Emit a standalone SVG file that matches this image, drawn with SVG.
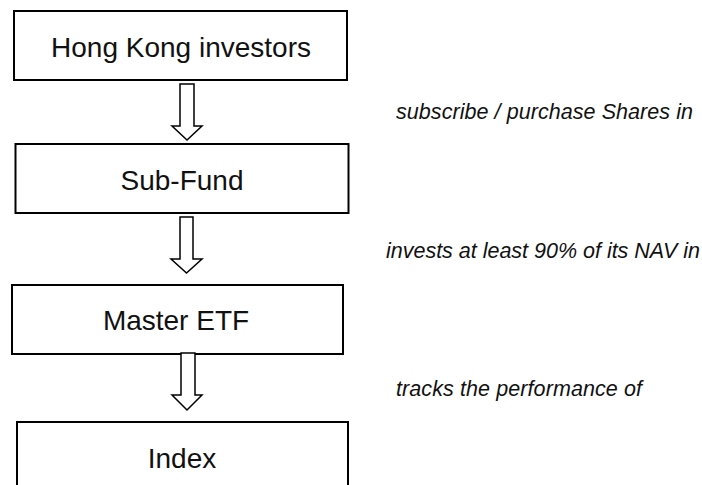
<svg xmlns="http://www.w3.org/2000/svg" width="702" height="485" viewBox="0 0 702 485">
<style>
.box{fill:#fff;stroke:#000;stroke-width:2}
.lbl{font-family:"Liberation Sans",Arial,sans-serif;font-size:28px;fill:#111;text-anchor:middle}
.arr{fill:#fff;stroke:#000;stroke-width:1.5;stroke-linejoin:miter}
.note{font-family:"Liberation Sans",Arial,sans-serif;font-size:21.5px;font-style:italic;fill:#111}
</style>
<rect width="702" height="485" fill="#fff"/>
<g id="node-hk"><rect class="box" x="14" y="11" width="333" height="69"/><text class="lbl" x="181" y="57">Hong Kong investors</text></g>
<g id="node-subfund"><rect class="box" x="15.5" y="144" width="333" height="69"/><text class="lbl" x="182" y="190">Sub-Fund</text></g>
<g id="node-master"><rect class="box" x="12" y="285" width="331" height="69"/><text class="lbl" x="176" y="330">Master ETF</text></g>
<g id="node-index"><rect class="box" x="17" y="422" width="331" height="90"/><text class="lbl" x="182" y="468">Index</text></g>
<g id="connectors">
<polygon class="arr" points="180,84 194,84 194,126 202,126 187,140 172,126 180,126"/>
<polygon class="arr" points="180,217 193,217 193,259 202,259 186.5,273 171,259 180,259"/>
<polygon class="arr" points="181,353 195,353 195,395 202,395 187,410 172,395 181,395"/>
</g>
<g id="labels">
<text class="note" x="396" y="119" textLength="297" lengthAdjust="spacing">subscribe / purchase Shares in</text>
<text class="note" x="386" y="258" textLength="314" lengthAdjust="spacing">invests at least 90% of its NAV in</text>
<text class="note" x="396" y="396" textLength="246" lengthAdjust="spacing">tracks the performance of</text>
</g>
</svg>
